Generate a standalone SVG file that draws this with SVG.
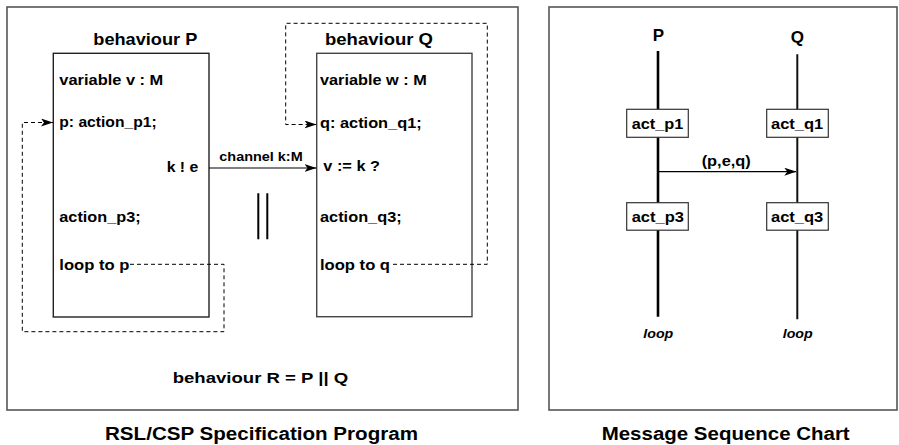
<svg xmlns="http://www.w3.org/2000/svg" width="899" height="445" viewBox="0 0 899 445">
<style>
text{font-family:"Liberation Sans",Arial,sans-serif;font-weight:bold;fill:#000}
.frame{fill:none;stroke:#555;stroke-width:1.6}
.box{fill:#fff;stroke:#222;stroke-width:1.4}
.dash{fill:none;stroke:#000;stroke-width:1;stroke-dasharray:4,3}
.line{fill:none;stroke:#000;stroke-width:1.2}
.t16{font-size:15.5px}
.t17{font-size:17px}
.t18{font-size:18px}
.act{fill:#fff;stroke:#333;stroke-width:1.2}
</style>
<defs>
<marker id="ah" viewBox="0 0 12 8" refX="12" refY="4" markerWidth="12" markerHeight="8" markerUnits="userSpaceOnUse" orient="auto">
<path d="M0,0 L12,4 L0,8 L3,4 z" fill="#000"/>
</marker>
</defs>
<rect fill="#fff" x="0" y="0" width="899" height="445"/>

<g id="left-panel">
<rect class="frame" x="7" y="7" width="511" height="403"/>
<text class="t18" x="105" y="440" textLength="313" lengthAdjust="spacingAndGlyphs">RSL/CSP Specification Program</text>
<text class="t16" x="172.7" y="383" textLength="175.6" lengthAdjust="spacingAndGlyphs">behaviour R = P || Q</text>
</g>

<g id="behaviour-P">
<text class="t17" x="93.3" y="45" textLength="104" lengthAdjust="spacingAndGlyphs">behaviour P</text>
<rect class="box" x="53.3" y="53.3" width="155.7" height="263.7"/>
<text class="t16" x="59.3" y="85" textLength="104" lengthAdjust="spacingAndGlyphs">variable v : M</text>
<text class="t16" x="59.3" y="127" textLength="97.3" lengthAdjust="spacingAndGlyphs">p: action_p1;</text>
<text class="t16" x="166.7" y="171.5" textLength="31.6" lengthAdjust="spacingAndGlyphs">k ! e</text>
<text class="t16" x="59.3" y="222" textLength="81.3" lengthAdjust="spacingAndGlyphs">action_p3;</text>
<text class="t16" x="59.3" y="270" textLength="70" lengthAdjust="spacingAndGlyphs">loop to p</text>
</g>

<g id="behaviour-Q">
<text class="t17" x="325" y="44.5" textLength="108" lengthAdjust="spacingAndGlyphs">behaviour Q</text>
<rect class="box" x="316.7" y="53.3" width="155.3" height="263.4" style="stroke:#444"/>
<text class="t16" x="320" y="85" textLength="106.7" lengthAdjust="spacingAndGlyphs">variable w : M</text>
<text class="t16" x="320" y="128" textLength="101.7" lengthAdjust="spacingAndGlyphs">q: action_q1;</text>
<text class="t16" x="323.3" y="171" textLength="56.7" lengthAdjust="spacingAndGlyphs">v := k ?</text>
<text class="t16" x="320" y="222" textLength="81.7" lengthAdjust="spacingAndGlyphs">action_q3;</text>
<text class="t16" x="320" y="270" textLength="70" lengthAdjust="spacingAndGlyphs">loop to q</text>
</g>

<g id="connectors">
<path class="dash" d="M130,264.3 H224 V331.7 H22.3 V122.5 H53" marker-end="url(#ah)"/>
<path class="dash" d="M393,264.3 H487.3 V23.3 H285.7 V124.5 H316.5" marker-end="url(#ah)"/>
<path class="line" d="M209,168 H316.5" marker-end="url(#ah)"/>
<text x="219.3" y="161" style="font-size:13px" textLength="83.4" lengthAdjust="spacingAndGlyphs">channel k:M</text>
<path d="M258.3,193.3 V239.3 M267.3,193.3 V239.3" stroke="#000" stroke-width="2" fill="none"/>
</g>

<g id="right-panel">
<rect class="frame" x="549" y="7" width="348" height="403"/>
<text class="t18" x="601.7" y="440" textLength="248" lengthAdjust="spacingAndGlyphs">Message Sequence Chart</text>
</g>

<g id="lifeline-P">
<text class="t17" x="658.3" y="41" text-anchor="middle">P</text>
<path d="M658,51 V316.7" stroke="#000" stroke-width="2.6" fill="none"/>
<text x="643.3" y="338" style="font-size:13px;font-style:italic" textLength="30" lengthAdjust="spacingAndGlyphs">loop</text>
</g>
<g id="lifeline-Q">
<text class="t17" x="797.3" y="43" text-anchor="middle">Q</text>
<path d="M797.3,54.3 V319.3" stroke="#111" stroke-width="2" fill="none"/>
<text x="782.7" y="338" style="font-size:13px;font-style:italic" textLength="30" lengthAdjust="spacingAndGlyphs">loop</text>
</g>

<g id="act_p1">
<rect class="act" x="626.7" y="109.3" width="61.6" height="28"/>
<text x="631.7" y="129" style="font-size:15px" textLength="51.6" lengthAdjust="spacingAndGlyphs">act_p1</text>
</g>
<g id="act_q1">
<rect class="act" x="766.7" y="109.3" width="61.6" height="28"/>
<text x="771" y="129" style="font-size:15px" textLength="52.3" lengthAdjust="spacingAndGlyphs">act_q1</text>
</g>
<g id="act_p3">
<rect class="act" x="626.7" y="202.7" width="61.6" height="27.5"/>
<text x="631.7" y="221.5" style="font-size:15px" textLength="52.3" lengthAdjust="spacingAndGlyphs">act_p3</text>
</g>
<g id="act_q3">
<rect class="act" x="766.7" y="202.7" width="61.6" height="27.5"/>
<text x="771" y="221.5" style="font-size:15px" textLength="52.3" lengthAdjust="spacingAndGlyphs">act_q3</text>
</g>

<g id="msc-connectors">
<path class="line" d="M658,171.7 H796.3" marker-end="url(#ah)"/>
<text x="701.7" y="166" style="font-size:14px" textLength="49" lengthAdjust="spacingAndGlyphs">(p,e,q)</text>
</g>
</svg>
